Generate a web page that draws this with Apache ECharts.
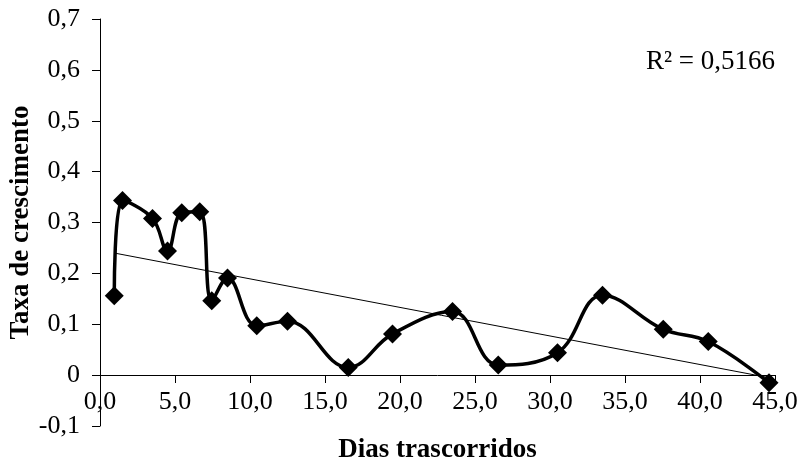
<!DOCTYPE html>
<html>
<head>
<meta charset="utf-8">
<script src="https://cdn.jsdelivr.net/npm/echarts@6/dist/echarts.min.js"></script>
<style>
  html, body { margin: 0; padding: 0; background: #fff; }
  #chart { width: 806px; height: 460px; }
</style>
</head>
<body>
<div id="chart"></div>
<script>
// dias trascorridos / taxa de crescimento
var days = [0.95, 1.5, 3.5, 4.5, 5.45, 6.65, 7.45, 8.5, 10.45, 12.5, 16.55, 19.5, 23.5, 26.55, 30.5, 33.5, 37.55, 40.55, 44.6];
var taxa = [0.156, 0.343, 0.308, 0.244, 0.319, 0.321, 0.146, 0.191, 0.097, 0.106, 0.015, 0.081, 0.125, 0.02, 0.044, 0.157, 0.09, 0.066, -0.015];
// linha de tendencia (extremos)
var trendX = [0.95, 44.6];
var trendY = [0.240, -0.005];
var r2Label = "R² = 0,5166";

var serif = "Liberation Serif";

function fmt(v) {
  var r = Math.round(v * 10) / 10;
  if (r === 0) return "0";
  return r.toFixed(1).replace(".", ",");
}

var chart = echarts.init(document.getElementById("chart"));
chart.setOption({
  animation: false,
  grid: { left: 100, right: 31, top: 19, bottom: 34, containLabel: false, outerBoundsMode: "none" },
  xAxis: {
    type: "value",
    min: 0,
    max: 45,
    interval: 5,
    position: "bottom",
    offset: -51, // eixo x passa pelo zero
    name: "Dias trascorridos",
    nameLocation: "middle",
    nameGap: 62,
    nameMoveOverlap: false,
    nameTextStyle: { fontFamily: serif, fontSize: 27, fontWeight: "bold", color: "#000" },
    axisLine: { onZero: false, lineStyle: { color: "#000", width: 1 } },
    axisTick: { show: true, length: 8, lineStyle: { color: "#000" } },
    axisLabel: {
      margin: 14,
      fontFamily: serif,
      fontSize: 26,
      color: "#000",
      formatter: function (v) { return v.toFixed(1).replace(".", ","); }
    },
    splitLine: { show: false }
  },
  yAxis: {
    type: "value",
    min: -0.1,
    max: 0.7,
    interval: 0.1,
    name: "Taxa de crescimento",
    nameLocation: "middle",
    nameGap: 65,
    nameMoveOverlap: false,
    nameTextStyle: { fontFamily: serif, fontSize: 27, fontWeight: "bold", color: "#000" },
    axisLine: { show: true, lineStyle: { color: "#000", width: 1 } },
    axisTick: { show: true, length: 8, lineStyle: { color: "#000" } },
    axisLabel: {
      margin: 20,
      fontFamily: serif,
      fontSize: 26,
      color: "#000",
      formatter: fmt
    },
    splitLine: { show: false }
  },
  graphic: [
    {
      type: "text",
      right: 31,
      top: 48,
      style: { text: r2Label, font: "27px " + serif, fill: "#000" }
    }
  ],
  series: [
    {
      name: "tendencia",
      type: "line",
      data: trendX.map(function (x, i) { return [x, trendY[i]]; }),
      symbol: "none",
      lineStyle: { color: "#000", width: 1 },
      z: 3
    },
    {
      name: "taxa",
      type: "line",
      smooth: 0.4,
      data: days.map(function (d, i) { return [d, taxa[i]]; }),
      symbol: "diamond",
      symbolSize: 19,
      itemStyle: { color: "#000" },
      lineStyle: { color: "#000", width: 3.5 },
      z: 2
    }
  ]
});
</script>
</body>
</html>
